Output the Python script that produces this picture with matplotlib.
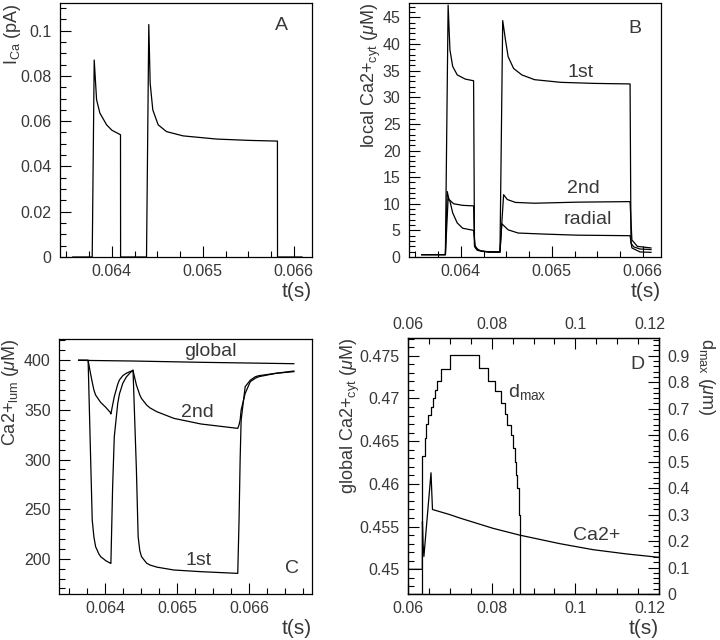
import matplotlib
matplotlib.use('Agg')
import matplotlib.pyplot as plt
import matplotlib.transforms as mtrans
from matplotlib.ticker import MultipleLocator, FuncFormatter

plt.rcParams['font.family'] = ['Liberation Sans', 'DejaVu Sans']
plt.rcParams['mathtext.fontset'] = 'custom'
plt.rcParams['mathtext.rm'] = 'Liberation Sans'
plt.rcParams['mathtext.it'] = 'Liberation Sans:italic'

# --- Data: panel A, calcium current ---
a_t = [0.06357, 0.063784, 0.063806, 0.063832, 0.063868, 0.063942, 0.064000,
       0.064095, 0.064096, 0.064381, 0.064406, 0.064421, 0.064450, 0.064509,
       0.064600, 0.064783, 0.065150, 0.065516, 0.065820, 0.065821, 0.06609]
a_ica = [0, 0, 0.087, 0.0695, 0.0636, 0.0584, 0.0560,
         0.0540, 0, 0, 0.1027, 0.0768, 0.065, 0.0584,
         0.0554, 0.0535, 0.0521, 0.0515, 0.0512, 0, 0]

# --- Data: panel B, local cytosolic Ca2+ ---
b_t1 = [0.06357, 0.06383, 0.06386, 0.06388, 0.06391, 0.06396, 0.06405, 0.06414,
        0.06415, 0.06418, 0.06431, 0.06443, 0.06446, 0.06449, 0.06452, 0.06458,
        0.06467, 0.06481, 0.06510, 0.06547, 0.06586, 0.06587, 0.06590, 0.06597,
        0.06609]
b_1st = [0.44, 0.44, 47.3, 38.9, 35.8, 34.2, 33.4, 33.1,
         2.0, 1.25, 0.9, 0.9, 44.4, 40.8, 37.6, 35.4,
         34.2, 33.3, 32.8, 32.6, 32.5, 2.6, 1.9, 1.5,
         1.4]
b_t2 = [0.06357, 0.06383, 0.06385, 0.06387, 0.06392, 0.06402, 0.06414, 0.06415,
        0.06419, 0.06430, 0.06443, 0.06447, 0.06451, 0.06460, 0.06481, 0.06528,
        0.06586, 0.06588, 0.06594, 0.06609]
b_2nd = [0.44, 0.44, 12.3, 10.8, 10.0, 9.7, 9.6, 2.3,
         1.25, 0.95, 0.95, 11.7, 10.8, 10.25, 10.1, 10.3,
         10.4, 3.2, 2.0, 1.7]
b_tr = [0.06357, 0.06383, 0.06386, 0.06388, 0.06391, 0.06396, 0.06402, 0.06414,
        0.06416, 0.06423, 0.06443, 0.06445, 0.06452, 0.06463, 0.06492, 0.06528,
        0.06586, 0.06588, 0.06597, 0.06609]
b_radial = [0.44, 0.44, 11.0, 10.5, 8.3, 6.4, 5.4, 5.0,
            1.7, 1.05, 0.95, 6.25, 5.1, 4.5, 4.3, 4.1,
            4.0, 1.7, 0.95, 0.88]

# --- Data: panel C, luminal Ca2+ ---
c_tg = [0.063632, 0.064387, 0.06533, 0.066618]
c_global = [400, 399.3, 398, 396.6]
c_t = [0.063632, 0.063764, 0.063797, 0.063821, 0.063844, 0.063868, 0.063915,
       0.063939, 0.064009, 0.064071, 0.064080, 0.064104, 0.064127, 0.064175,
       0.064198, 0.064245, 0.064292, 0.064340, 0.064387, 0.064434, 0.064458,
       0.064481, 0.064505, 0.064575, 0.064623, 0.064717, 0.064953, 0.065330,
       0.065840, 0.065858, 0.065873, 0.065887, 0.065943, 0.066014, 0.066085,
       0.066132, 0.066368, 0.066618]
c_2nd = [400, 400, 386.9, 378.0, 370.1, 365.0, 360.0,
         357.5, 352.6, 347.5, 345.9, 355.0, 363.4, 376.0,
         380.2, 384.5, 386.9, 388.5, 389.6, 375.1, 370.0,
         365.0, 361.5, 355.0, 352.0, 348.2, 341.5, 335.8,
         331.4, 335.0, 339.8, 350.0, 366.7, 378.5, 382.0,
         383.5, 386.9, 388.6]
c_1st = [400, 400, 306.2, 239.0, 222.0, 212.1, 204.5,
         202.0, 198.0, 195.5, 195.3, 272.6, 323.0, 356.6,
         366.0, 376.8, 383.0, 386.9, 390.3, 289.4, 222.2,
         208.0, 202.0, 195.5, 193.6, 191.5, 188.6, 186.9,
         185.2, 239.0, 300.0, 339.8, 373.4, 380.0, 383.5,
         384.5, 386.9, 389.2]

# --- Data: panel D, global Ca2+ and d_max ---
d_t = [0.0600, 0.06342, 0.06345, 0.06360, 0.06380, 0.06550, 0.06585, 0.0700,
       0.0724, 0.0803, 0.0867, 0.0963, 0.1042, 0.1122, 0.1200]
d_ca = [0.4500, 0.4500, 0.4556, 0.4530, 0.4515, 0.4613, 0.4570, 0.4564,
        0.4560, 0.4548, 0.4540, 0.4530, 0.4523, 0.4518, 0.4514]
dmax_t = [0.0600, 0.06342, 0.06400, 0.06440, 0.06490, 0.06540, 0.06600, 0.06650,
          0.06700, 0.06780, 0.07000, 0.07697, 0.07920, 0.08080, 0.08216, 0.08319,
          0.08374, 0.08455, 0.08502, 0.08550, 0.08582, 0.08613, 0.08653, 0.08677,
          0.1200]
dmax = [0, 0.52, 0.59, 0.641, 0.676, 0.705, 0.739, 0.770,
        0.804, 0.849, 0.9025, 0.852, 0.805, 0.765, 0.72, 0.68,
        0.64, 0.60, 0.55, 0.50, 0.45, 0.40, 0.30, 0.0,
        0.0]

W, H = 720, 640
fig = plt.figure(figsize=(7.2, 6.4), dpi=100)
TXT = '#383838'
FS_TICK = 11.5
FS_LAB = 13
FS_X = 15
FS_NOTE = 14


def box(l, r, t, b):
    return [l / W, 1 - b / H, (r - l) / W, (b - t) / H]


fmt = FuncFormatter(lambda v, p: f'{round(v, 6):g}')


def style(ax, xmaj, xmin, ymaj, ymin):
    ax.xaxis.set_major_locator(MultipleLocator(xmaj))
    ax.xaxis.set_minor_locator(MultipleLocator(xmin))
    ax.yaxis.set_major_locator(MultipleLocator(ymaj))
    ax.yaxis.set_minor_locator(MultipleLocator(ymin))
    ax.xaxis.set_major_formatter(fmt)
    ax.yaxis.set_major_formatter(fmt)
    ax.tick_params(which='both', direction='in', top=False, right=False,
                   labelsize=FS_TICK, labelcolor=TXT, width=0.8)
    ax.tick_params(which='major', length=8)
    ax.tick_params(which='minor', length=4)
    ax.tick_params(axis='x', pad=5)
    ax.tick_params(axis='y', pad=6)
    for s in ax.spines.values():
        s.set_linewidth(0.9)


def labels(ax, ylab, yx):
    ax.text(1.0, -0.135, 't(s)', transform=ax.transAxes, ha='right',
            va='center', fontsize=FS_X, color=TXT)
    ax.text(yx, 1.0, ylab, transform=ax.transAxes, ha='center', va='top',
            rotation=90, fontsize=FS_LAB, color=TXT)


def note(ax, x, y, s):
    ax.text(x, y, s, transform=ax.transAxes, ha='center', va='center',
            fontsize=FS_NOTE, color=TXT)


lw = 0.9

# Panel A
axA = fig.add_axes(box(60, 312, 3, 257))
axA.plot(a_t, a_ica, color='k', lw=lw)
axA.set_xlim(0.06343, 0.06620)
axA.set_ylim(0, 0.1122)
style(axA, 0.001, 0.00025, 0.02, 0.005)
labels(axA, r'I$_{\mathrm{Ca}}$ (pA)', -0.19)
note(axA, 0.88, 0.91, 'A')

# Panel B
axB = fig.add_axes(box(409, 661, 3, 257))
axB.plot(b_t1, b_1st, color='k', lw=lw)
axB.plot(b_t2, b_2nd, color='k', lw=lw)
axB.plot(b_tr, b_radial, color='k', lw=lw)
axB.set_xlim(0.06343, 0.06620)
axB.set_ylim(0, 47.7)
style(axB, 0.001, 0.00025, 5, 1)
labels(axB, r'local Ca2+$_{\mathrm{cyt}}$ ($\mu$M)', -0.15)
note(axB, 0.897, 0.90, 'B')
note(axB, 0.68, 0.728, '1st')
note(axB, 0.69, 0.27, '2nd')
note(axB, 0.71, 0.146, 'radial')

# Panel C
axC = fig.add_axes(box(59, 312, 339, 594))
axC.plot(c_tg, c_global, color='k', lw=lw)
axC.plot(c_t, c_2nd, color='k', lw=lw)
axC.plot(c_t, c_1st, color='k', lw=lw)
axC.set_xlim(0.06336, 0.06687)
axC.set_ylim(164.4, 421.5)
style(axC, 0.001, 0.00025, 50, 10)
labels(axC, r'Ca2+$_{\mathrm{lum}}$ ($\mu$M)', -0.19)
note(axC, 0.92, 0.10, 'C')
note(axC, 0.60, 0.95, 'global')
note(axC, 0.545, 0.71, '2nd')
note(axC, 0.55, 0.133, '1st')

# Panel D
axD = fig.add_axes(box(408, 659, 338, 594))
axD.plot(d_t, d_ca, color='k', lw=lw)
axD.set_xlim(0.06, 0.12)
axD.set_ylim(0.44711, 0.47707)
style(axD, 0.02, 0.005, 0.005, 0.001)
labels(axD, r'global Ca2+$_{\mathrm{cyt}}$ ($\mu$M)', -0.23)

axR = axD.twinx()
axR.step(dmax_t, dmax, where='post', color='k', lw=lw)
axR.set_ylim(0, 0.967)
axR.yaxis.set_major_locator(MultipleLocator(0.1))
axR.yaxis.set_minor_locator(MultipleLocator(0.02))
axR.yaxis.set_major_formatter(fmt)
axR.tick_params(which='both', direction='in', labelsize=FS_TICK,
                labelcolor=TXT, width=0.8, pad=6)
axR.tick_params(which='major', length=8)
axR.tick_params(which='minor', length=4)
axR.text(1.19, 1.0, r'd$_{\mathrm{max}}$ ($\mu$m)', transform=axR.transAxes,
         ha='center', va='top', rotation=270, fontsize=FS_LAB, color=TXT)

axT = axD.twiny()
axT.set_xlim(0.06, 0.12)
axT.xaxis.set_major_locator(MultipleLocator(0.02))
axT.xaxis.set_minor_locator(MultipleLocator(0.005))
axT.xaxis.set_major_formatter(fmt)
axT.tick_params(which='both', direction='in', labelsize=FS_TICK,
                labelcolor=TXT, width=0.8, pad=4)
axT.tick_params(which='major', length=8)
axT.tick_params(which='minor', length=4)

note(axD, 0.916, 0.895, 'D')
axD.text(0.40, 0.79, r'd$_{\mathrm{max}}$', transform=axD.transAxes,
         ha='left', va='center', fontsize=FS_NOTE, color=TXT)
note(axD, 0.753, 0.23, 'Ca2+')

# the last time label of panel D sits a little inside the frame
fig.canvas.draw()
shift = mtrans.ScaledTranslation(-9 / 100, 0, fig.dpi_scale_trans)
for tick in axD.xaxis.get_major_ticks() + axT.xaxis.get_major_ticks():
    if abs(tick.get_loc() - 0.12) < 1e-9:
        tick.label1.set_transform(tick.label1.get_transform() + shift)
        tick.label2.set_transform(tick.label2.get_transform() + shift)

fig.savefig('out.png', dpi=100)
